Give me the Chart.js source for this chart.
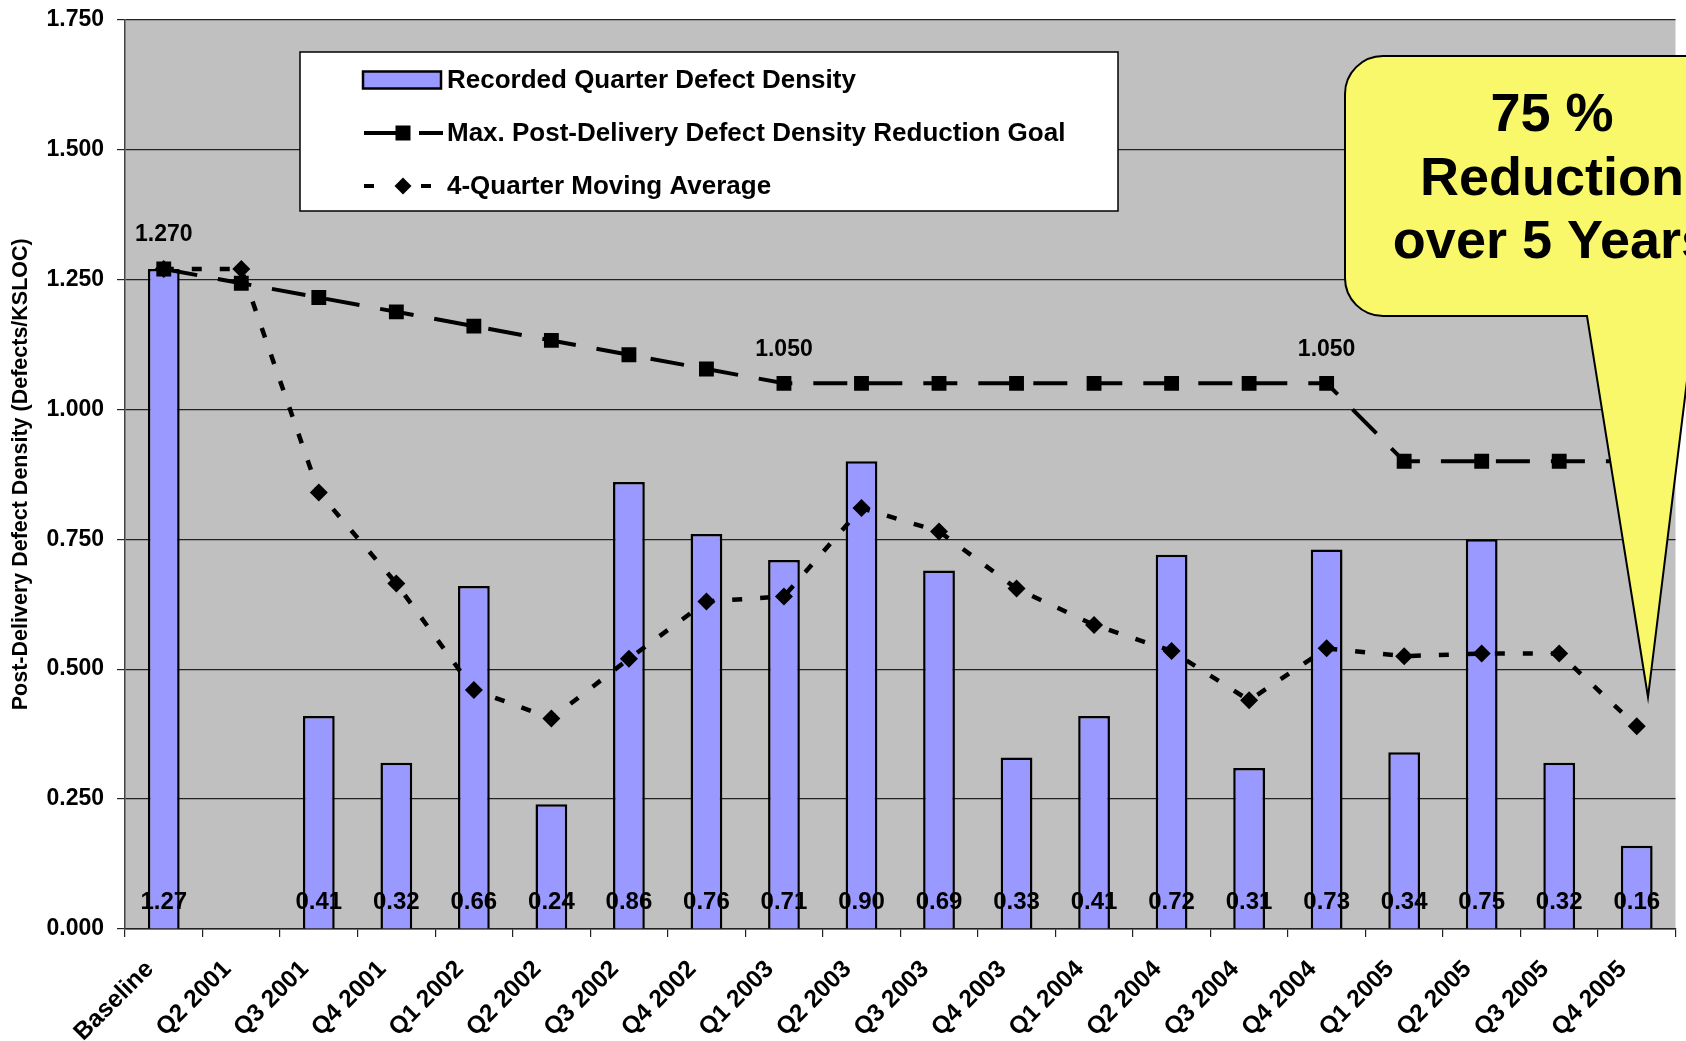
<!DOCTYPE html>
<html>
<head>
<meta charset="utf-8">
<script src="https://cdn.jsdelivr.net/npm/chart.js@4.4.1/dist/chart.umd.min.js"></script>
<style>
  html, body { margin: 0; padding: 0; background: #ffffff; }
  #wrap { position: relative; width: 1686px; height: 1041px; }
</style>
</head>
<body>
<div id="wrap"><canvas id="chart"></canvas></div>
<script>
// Quarters on the category axis
const quarters = ['Baseline', 'Q2 2001', 'Q3 2001', 'Q4 2001',
  'Q1 2002', 'Q2 2002', 'Q3 2002', 'Q4 2002',
  'Q1 2003', 'Q2 2003', 'Q3 2003', 'Q4 2003',
  'Q1 2004', 'Q2 2004', 'Q3 2004', 'Q4 2004',
  'Q1 2005', 'Q2 2005', 'Q3 2005', 'Q4 2005'];

// Recorded defect density per quarter (no report for Q2 2001)
const recordedDensity = [1.27, null, 0.41, 0.32, 0.66, 0.24, 0.86, 0.76, 0.71, 0.90,
  0.69, 0.33, 0.41, 0.72, 0.31, 0.73, 0.34, 0.75, 0.32, 0.16];

// Maximum allowed post-delivery defect density (goal)
const reductionGoal = [1.27, 1.2425, 1.215, 1.1875, 1.16, 1.1325, 1.105, 1.0775,
  1.05, 1.05, 1.05, 1.05, 1.05, 1.05, 1.05, 1.05, 0.90, 0.90, 0.90, 0.90];

// Rolling 4-quarter average
const movingAverage = [1.27, 1.27, 0.84, 0.665, 0.46, 0.405, 0.52, 0.63, 0.64, 0.81,
  0.765, 0.655, 0.585, 0.535, 0.44, 0.54, 0.525, 0.53, 0.53, 0.39];

// Goal points that carry a value label
const goalLabelIndex = [0, 8, 15];

const seriesNames = ['Recorded Quarter Defect Density',
  'Max. Post-Delivery Defect Density Reduction Goal',
  '4-Quarter Moving Average'];
const yAxisTitle = 'Post-Delivery Defect Density (Defects/KSLOC)';
const calloutLines = ['75 %', 'Reduction', 'over 5 Years'];

const FONT = "'Liberation Sans', Arial, sans-serif";

// Grey plot background
const plotBackground = {
  id: 'plotBackground',
  beforeDraw(chart) {
    const { ctx, chartArea: a } = chart;
    ctx.save();
    ctx.fillStyle = '#c0c0c0';
    ctx.fillRect(a.left, a.top, a.right - a.left, a.bottom - a.top);
    ctx.restore();
  }
};

function drawSquare(ctx, x, y, s) {
  ctx.fillRect(x - s / 2, y - s / 2, s, s);
}
function drawDiamond(ctx, x, y, r) {
  ctx.beginPath();
  ctx.moveTo(x - r, y); ctx.lineTo(x, y - r); ctx.lineTo(x + r, y); ctx.lineTo(x, y + r);
  ctx.closePath(); ctx.fill();
}

// Value labels, legend box and the callout
const overlay = {
  id: 'overlay',
  afterDraw(chart) {
    const ctx = chart.ctx;
    const area = chart.chartArea;
    ctx.save();

    // bar values along the bottom of the plot
    const barMeta = chart.getDatasetMeta(0);
    ctx.fillStyle = '#000';
    ctx.font = `bold 24px ${FONT}`;
    ctx.textAlign = 'center';
    ctx.textBaseline = 'middle';
    barMeta.data.forEach((el, i) => {
      const v = recordedDensity[i];
      if (v === null) return;
      ctx.fillText(v.toFixed(2), el.x, area.bottom - 27);
    });

    // goal values above selected points
    const goalMeta = chart.getDatasetMeta(1);
    ctx.font = `bold 23px ${FONT}`;
    goalLabelIndex.forEach(i => {
      const el = goalMeta.data[i];
      ctx.fillText(reductionGoal[i].toFixed(3), el.x, el.y - 34);
    });

    // legend
    const lx = 300, ly = 52, lw = 818, lh = 159;
    ctx.fillStyle = '#fff';
    ctx.fillRect(lx, ly, lw, lh);
    ctx.strokeStyle = '#000';
    ctx.lineWidth = 1.5;
    ctx.strokeRect(lx, ly, lw, lh);

    const rows = [80, 133, 186];
    const ds = chart.data.datasets;
    // bar swatch
    ctx.fillStyle = ds[0].backgroundColor;
    ctx.fillRect(363, rows[0] - 8.5, 78, 17);
    ctx.lineWidth = 2.5;
    ctx.strokeStyle = '#000';
    ctx.strokeRect(363, rows[0] - 8.5, 78, 17);
    // goal line swatch
    ctx.lineWidth = 4;
    ctx.beginPath(); ctx.moveTo(364, rows[1]); ctx.lineTo(398, rows[1]); ctx.stroke();
    ctx.beginPath(); ctx.moveTo(419, rows[1]); ctx.lineTo(443, rows[1]); ctx.stroke();
    ctx.fillStyle = '#000';
    drawSquare(ctx, 403, rows[1], 15);
    // moving average swatch
    ctx.beginPath(); ctx.moveTo(364, rows[2]); ctx.lineTo(374, rows[2]); ctx.stroke();
    ctx.beginPath(); ctx.moveTo(421, rows[2]); ctx.lineTo(431, rows[2]); ctx.stroke();
    drawDiamond(ctx, 403, rows[2], 8.5);

    ctx.font = `bold 26px ${FONT}`;
    ctx.textAlign = 'left';
    ctx.textBaseline = 'middle';
    seriesNames.forEach((name, i) => ctx.fillText(name, 447, rows[i] + 1));

    // callout bubble pointing at the last quarter
    const left = 1345, top = 56, bottom = 316, r = 38;
    ctx.beginPath();
    ctx.moveTo(left + r, top);
    ctx.lineTo(1760, top);
    ctx.lineTo(1760, bottom);
    ctx.lineTo(1695, bottom);
    ctx.lineTo(1648, 697);
    ctx.lineTo(1587, bottom);
    ctx.lineTo(left + r, bottom);
    ctx.arcTo(left, bottom, left, bottom - r, r);
    ctx.lineTo(left, top + r);
    ctx.arcTo(left, top, left + r, top, r);
    ctx.closePath();
    ctx.fillStyle = '#f8f86a';
    ctx.fill();
    ctx.lineWidth = 2;
    ctx.strokeStyle = '#000';
    ctx.stroke();

    ctx.fillStyle = '#000';
    ctx.font = `bold 54px ${FONT}`;
    ctx.textAlign = 'center';
    ctx.textBaseline = 'alphabetic';
    const baselines = [131, 195, 258];
    calloutLines.forEach((t, i) => ctx.fillText(t, 1552, baselines[i]));

    ctx.restore();
  }
};

new Chart(document.getElementById('chart'), {
  data: {
    labels: quarters,
    datasets: [
      {
        type: 'bar',
        label: seriesNames[0],
        data: recordedDensity,
        backgroundColor: '#9999ff',
        borderColor: '#000',
        borderWidth: 2.5,
        barPercentage: 0.41,
        categoryPercentage: 1,
        order: 2
      },
      {
        type: 'line',
        label: seriesNames[1],
        data: reductionGoal,
        borderColor: '#000',
        borderWidth: 4,
        borderDash: [34, 21],
        pointStyle: 'rect',
        pointRadius: 10.5,
        pointBackgroundColor: '#000',
        pointBorderColor: '#000',
        pointBorderWidth: 0,
        tension: 0,
        fill: false,
        order: 0
      },
      {
        type: 'line',
        label: seriesNames[2],
        data: movingAverage,
        borderColor: '#000',
        borderWidth: 4.5,
        borderDash: [10, 18],
        pointStyle: 'rectRot',
        pointRadius: 9,
        pointBackgroundColor: '#000',
        pointBorderColor: '#000',
        pointBorderWidth: 0,
        tension: 0,
        fill: false,
        order: 1
      }
    ]
  },
  options: {
    responsive: true,
    maintainAspectRatio: false,
    animation: false,
    layout: { padding: { top: 19.5, right: 0, bottom: 0, left: 0 } },
    plugins: {
      legend: { display: false },
      tooltip: { enabled: false }
    },
    scales: {
      x: {
        offset: true,
        grid: {
          display: true, offset: true, drawOnChartArea: false, drawTicks: true,
          tickLength: 8, color: '#222', lineWidth: 1.2
        },
        border: { display: true, color: '#222', width: 1.5 },
        ticks: {
          autoSkip: false, minRotation: 45, maxRotation: 45,
          color: '#000', padding: 18, labelOffset: -14,
          font: { family: FONT, size: 24.5, weight: 'bold' }
        },
        afterFit(scale) { scale.height = 112; }
      },
      y: {
        min: 0, max: 1.75,
        grid: { color: '#222', lineWidth: 1.2, tickLength: 8 },
        border: { display: true, color: '#444', width: 1.5 },
        ticks: {
          stepSize: 0.25, color: '#000', padding: 13,
          callback: v => Number(v).toFixed(3),
          font: { family: FONT, size: 23, weight: 'bold' }
        },
        title: {
          display: true, text: yAxisTitle, color: '#000',
          font: { family: FONT, size: 21.5, weight: 'bold' },
          padding: { top: 8, bottom: 0 }
        },
        afterFit(scale) {
          scale.width = 125;
          scale.paddingTop = 0;
          scale.paddingBottom = 0;
        }
      }
    }
  },
  plugins: [plotBackground, overlay]
});
</script>
</body>
</html>
